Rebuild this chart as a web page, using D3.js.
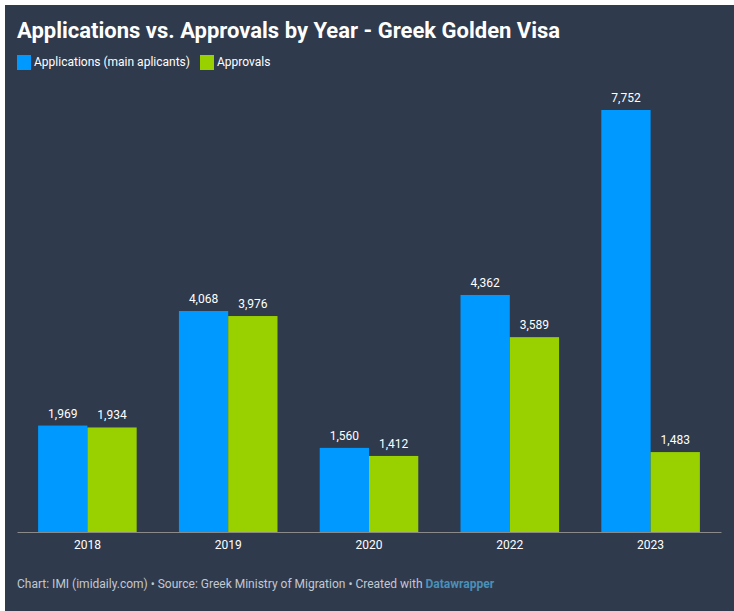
<!DOCTYPE html>
<html>
<head>
<meta charset="utf-8">
<script src="https://cdn.jsdelivr.net/npm/d3@7"></script>
<style>
  html, body { margin: 0; padding: 0; background: #fff; }
  svg { display: block; font-family: Roboto, sans-serif; }
</style>
</head>
<body>
<div class="chart"></div>
<script>
const years = ["2018", "2019", "2020", "2022", "2023"];
const applications = [1969, 4068, 1560, 4362, 7752];
const approvals = [1934, 3976, 1412, 3589, 1483];
const seriesNames = ["Applications (main aplicants)", "Approvals"];
const seriesColors = ["#0099ff", "#99d100"];

const width = 734;
const height = 611;
const svg = d3
  .select(".chart")
  .append("svg")
  .attr("width", width)
  .attr("height", height);

// dark panel, leaves a thin white edge top and left
svg
  .append("rect")
  .attr("x", 5)
  .attr("y", 5)
  .attr("width", width - 5)
  .attr("height", height - 5)
  .attr("fill", "#2f3a4d");

svg
  .append("text")
  .attr("x", 17)
  .attr("y", 38)
  .attr("fill", "#fff")
  .attr("font-size", 22)
  .attr("font-weight", 700)
  .text("Applications vs. Approvals by Year - Greek Golden Visa");

// legend
const legendX = [17, 200];
const legendTextX = [34, 217];
seriesNames.forEach((name, i) => {
  svg
    .append("rect")
    .attr("x", legendX[i])
    .attr("y", 55)
    .attr("width", 14)
    .attr("height", 15)
    .attr("fill", seriesColors[i]);
  svg
    .append("text")
    .attr("x", legendTextX[i])
    .attr("y", 66)
    .attr("fill", "#fff")
    .attr("font-size", 12)
    .text(name);
});

const x = d3.scaleBand().domain(years).range([17, 721]).paddingInner(0.3).paddingOuter(0.15);
const y = d3.scaleLinear().domain([0, 7752]).range([533, 110]);
const x1 = d3.scaleBand().domain([0, 1]).range([0, x.bandwidth()]);

[applications, approvals].forEach((values, s) => {
  const g = svg.append("g");
  g.selectAll("rect")
    .data(values)
    .enter()
    .append("rect")
    .attr("x", (d, i) => x(years[i]) + x1(s))
    .attr("y", (d) => y(d))
    .attr("width", x1.bandwidth())
    .attr("height", (d) => y(0) - y(d))
    .attr("fill", seriesColors[s]);
  g.selectAll("text")
    .data(values)
    .enter()
    .append("text")
    .attr("x", (d, i) => x(years[i]) + x1(s) + x1.bandwidth() / 2)
    .attr("y", (d) => y(d) - 8)
    .attr("text-anchor", "middle")
    .attr("fill", "#fff")
    .attr("font-size", 12)
    .text((d) => d3.format(",")(d));
});

// x axis
const axis = svg
  .append("g")
  .attr("transform", "translate(0,532)")
  .call(d3.axisBottom(x).tickSize(0).tickPadding(8));
axis.select(".domain").attr("stroke", "#8a8a8a").attr("stroke-width", 1);
axis
  .selectAll("text")
  .attr("fill", "#fff")
  .attr("font-family", "Roboto, sans-serif")
  .attr("font-size", 12);

// footer
const footer = svg
  .append("text")
  .attr("x", 17)
  .attr("y", 588)
  .attr("fill", "#c3c8d0")
  .attr("font-size", 12);
footer.append("tspan").text("Chart: IMI (imidaily.com) • Source: Greek Ministry of Migration • Created with ");
footer.append("tspan").attr("fill", "#4a90b8").attr("font-weight", 700).text("Datawrapper");
</script>
</body>
</html>
